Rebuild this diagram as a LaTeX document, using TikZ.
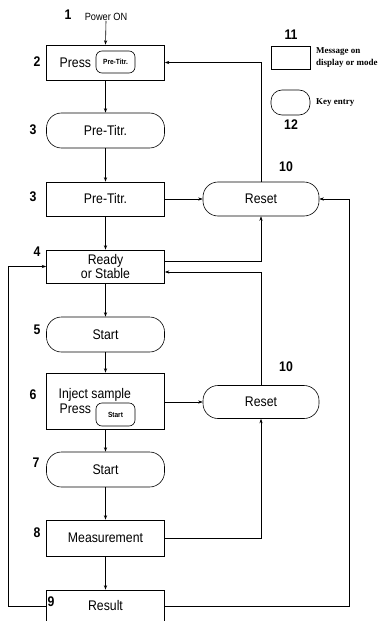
\documentclass[tikz,border=0pt]{standalone}
\usepackage{fontspec}
\setmainfont{Liberation Sans}[FakeStretch=0.88]
\newfontfamily\legf{Liberation Serif}
\usetikzlibrary{arrows.meta}
\newcommand{\mainf}{\fontsize{14}{15}\selectfont}
\tikzset{
  box/.style={draw, rectangle, line width=0.6bp, minimum width=118bp, minimum height=34bp, inner sep=0pt, font=\mainf, align=center},
  pill/.style={box, rounded corners=15bp},
  keysm/.style={draw, rectangle, rounded corners=6bp, line width=0.6bp, minimum width=39bp, minimum height=22bp, inner sep=0pt, font=\bfseries\fontsize{7.5}{8}\selectfont},
  num/.style={font=\bfseries\fontsize{14}{14}\selectfont, inner sep=0pt},
  arr/.style={-{Stealth[length=4.5bp,width=3.2bp]}, line width=0.6bp},
  leg/.style={font=\legf\bfseries\fontsize{9}{12}\selectfont, align=left, anchor=west, inner sep=0pt},
}
\begin{document}
\begin{tikzpicture}[x=1bp, y=-1bp]
\clip (0,0) rectangle (378,621);
\fill[white] (0,0) rectangle (378,621);

% main column
\node[inner sep=0pt, font=\fontsize{10.5}{10.5}\selectfont] (pw) at (106,17) {Power ON};
\node[box, minimum height=35bp] (p2) at (105.5,62.5) {};
\node[anchor=west, inner sep=0pt, font=\mainf] (p2t) at (59.5,62.5) {Press};
\node[keysm] (p2k) at (115.5,62) {Pre-Titr.};
\node[pill, minimum height=35bp] (k3) at (105.5,130.5) {Pre-Titr.};
\node[box] (b3) at (105.5,199) {Pre-Titr.};
\node[box, minimum height=33bp] (b4) at (105.5,266.5) {Ready\\or Stable};
\node[pill, minimum height=35bp] (k5) at (105.5,334.5) {Start};
\node[box, minimum height=56bp] (b6) at (105.5,401) {};
\node[anchor=west, inner sep=0pt, font=\mainf] (b6a) at (58.5,395) {Inject sample};
\node[anchor=west, inner sep=0pt, font=\mainf] (b6b) at (59.5,408.5) {Press};
\node[keysm, minimum height=23bp] (b6k) at (115.5,414.5) {Start};
\node[pill, minimum height=35bp] (k7) at (105.5,469.5) {Start};
\node[box, minimum height=36bp] (b8) at (105.5,538) {Measurement};
\node[box, minimum height=32bp] (b9) at (105.5,606) {Result};

% reset column
\node[pill, minimum width=116bp] (r1) at (261,199) {Reset};
\node[pill, minimum width=116bp, minimum height=33bp] (r2) at (261,402) {Reset};

% legend
\node[draw, line width=0.6bp, minimum width=39bp, minimum height=23bp, inner sep=0pt] (lr) at (290.5,57.5) {};
\node[leg] (lrt) at (316,58) {Message on\\display or mode};
\node[draw, line width=0.6bp, rounded corners=11bp, minimum width=39bp, minimum height=25bp, inner sep=0pt] (lp) at (290.5,102.5) {};
\node[leg] (lpt) at (316,103) {Key entry};

% numbers
\node[num] (n1) at (68,15) {1};
\node[num] (n2) at (37,62) {2};
\node[num] (n3a) at (33,130) {3};
\node[num] (n3b) at (33,197) {3};
\node[num] (n4) at (37,252) {4};
\node[num] (n5) at (37,330) {5};
\node[num] (n6) at (33,395) {6};
\node[num] (n7) at (36,463) {7};
\node[num] (n8) at (37,533) {8};
\node[num] (n9) at (51,602) {9};
\node[num] (n10a) at (286,167) {10};
\node[num] (n10b) at (286,367) {10};
\node[num] (n11) at (291,35) {11};
\node[num] (n12) at (291,125) {12};

% vertical flow
\draw[arr] (pw.south) -- (p2.north);
\draw[arr] (p2) -- (k3);
\draw[arr] (k3) -- (b3);
\draw[arr] (b3) -- (b4);
\draw[arr] (b4) -- (k5);
\draw[arr] (k5) -- (b6);
\draw[arr] (b6) -- (k7);
\draw[arr] (k7) -- (b8);
\draw[arr] (b8) -- (b9);

% side connections
\draw[arr] (b3.east) -- (r1.west);
\draw[arr] (r1.north) |- (p2.east);
\draw[arr] ([yshift=5.5bp]b4.east) -| (r1.south);
\draw[arr] (r2.north) |- ([yshift=-5.5bp]b4.east);
\draw[arr] (b6.east |- r2.west) -- (r2.west);
\draw[arr] (b8.east) -| (r2.south);
\coordinate (rr) at (349,606);
\draw[arr] (b9.east) -- (rr) |- (r1.east);
\coordinate (ll) at (8,606);
\draw[arr] (b9.west) -- (ll) |- (b4.west);
\end{tikzpicture}
\end{document}
